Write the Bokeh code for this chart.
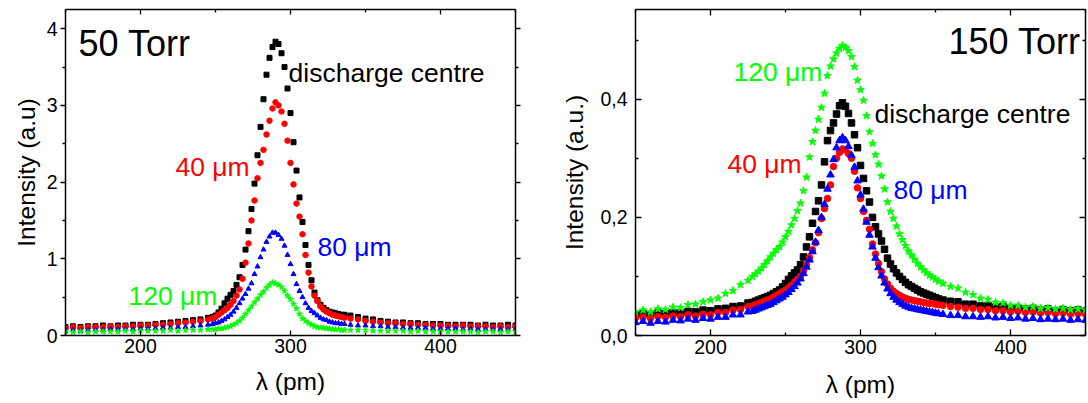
from bokeh.plotting import figure
from bokeh.models import Range1d, LinearAxis, FixedTicker, CustomJSTickFormatter
from bokeh.layouts import row
from bokeh.embed import file_html
from bokeh.resources import INLINE
from bokeh.core.properties import value

FONT = "Liberation Sans"

# ---------------- 50 Torr panel data ----------------
wl_50 = [150, 155, 160, 165, 170, 175, 180, 185, 190, 195, 200, 205, 210, 215, 220, 225, 230, 235, 240, 245,
         248, 250, 252, 254, 256, 258, 260, 262, 264, 266, 268, 270, 272, 274, 276, 278, 280, 282, 284, 286,
         288, 290, 292, 294, 296, 298, 300, 302, 304, 306, 308, 310, 312, 314, 316, 318, 320, 322, 324, 326,
         328, 330, 332, 334, 336,
         340, 345, 350, 355, 360, 365, 370, 375, 380, 385, 390, 395, 400, 405, 410, 415, 420, 425, 430, 435,
         440, 445, 450]

centre_50 = [0.11, 0.12, 0.11, 0.12, 0.12, 0.13, 0.12, 0.13, 0.13, 0.14, 0.14, 0.14, 0.15, 0.16, 0.17, 0.18, 0.19, 0.20, 0.21, 0.23,
             0.24, 0.26, 0.30, 0.35, 0.42, 0.48, 0.53, 0.58, 0.66, 0.76, 0.92, 1.12, 1.36, 1.65, 1.98, 2.35, 2.72, 3.08, 3.40, 3.62,
             3.76, 3.83, 3.80, 3.68, 3.50, 3.22, 2.90, 2.52, 2.15, 1.80, 1.48, 1.18, 0.92, 0.72, 0.56, 0.46, 0.40, 0.36, 0.33, 0.31,
             0.30, 0.29, 0.28, 0.27, 0.27,
             0.26, 0.24, 0.22, 0.21, 0.19, 0.18, 0.17, 0.17, 0.16, 0.16, 0.15, 0.15, 0.15, 0.14, 0.14, 0.14, 0.14, 0.13, 0.14, 0.13,
             0.13, 0.14, 0.13]

um40_50 = [0.10, 0.11, 0.10, 0.11, 0.11, 0.11, 0.12, 0.11, 0.12, 0.12, 0.13, 0.13, 0.14, 0.14, 0.15, 0.16, 0.17, 0.18, 0.19, 0.21,
           0.22, 0.24, 0.27, 0.30, 0.33, 0.36, 0.40, 0.45, 0.52, 0.60, 0.74, 0.95, 1.20, 1.50, 1.76, 2.05, 2.25, 2.42, 2.62, 2.80,
           2.96, 3.04, 3.00, 2.92, 2.76, 2.54, 2.25, 1.97, 1.72, 1.55, 1.32, 1.05, 0.82, 0.64, 0.52, 0.45, 0.38, 0.34, 0.31, 0.29,
           0.27, 0.26, 0.25, 0.24, 0.23,
           0.22, 0.21, 0.19, 0.18, 0.17, 0.16, 0.16, 0.15, 0.15, 0.14, 0.14, 0.13, 0.13, 0.13, 0.12, 0.13, 0.12, 0.12, 0.12, 0.11,
           0.12, 0.11, 0.12]

um80_50 = [0.06, 0.07, 0.06, 0.07, 0.07, 0.07, 0.08, 0.08, 0.08, 0.08, 0.09, 0.09, 0.09, 0.10, 0.10, 0.11, 0.11, 0.12, 0.13, 0.14,
           0.15, 0.16, 0.17, 0.19, 0.21, 0.24, 0.27, 0.31, 0.36, 0.42, 0.48, 0.54, 0.61, 0.68, 0.80, 0.90, 1.02, 1.12, 1.22, 1.29,
           1.34, 1.34, 1.31, 1.26, 1.17, 1.05, 0.93, 0.80, 0.67, 0.58, 0.50, 0.42, 0.36, 0.32, 0.29, 0.26, 0.23, 0.21, 0.20, 0.18,
           0.17, 0.16, 0.16, 0.15, 0.15,
           0.14, 0.13, 0.13, 0.12, 0.12, 0.11, 0.11, 0.10, 0.10, 0.10, 0.10, 0.09, 0.09, 0.09, 0.09, 0.08, 0.09, 0.08, 0.08, 0.08,
           0.08, 0.08, 0.08]

um120_50 = [0.05, 0.04, 0.05, 0.04, 0.05, 0.05, 0.05, 0.05, 0.06, 0.05, 0.06, 0.06, 0.06, 0.06, 0.07, 0.06, 0.07, 0.07, 0.07, 0.08,
            0.08, 0.08, 0.09, 0.09, 0.10, 0.11, 0.12, 0.14, 0.16, 0.19, 0.23, 0.28, 0.33, 0.38, 0.43, 0.48, 0.53, 0.57, 0.62, 0.66,
            0.69, 0.68, 0.66, 0.63, 0.58, 0.52, 0.47, 0.41, 0.35, 0.28, 0.22, 0.19, 0.16, 0.14, 0.12, 0.11, 0.10, 0.10, 0.09, 0.09,
            0.08, 0.08, 0.08, 0.07, 0.07,
            0.07, 0.07, 0.07, 0.06, 0.06, 0.06, 0.06, 0.06, 0.05, 0.06, 0.05, 0.05, 0.05, 0.05, 0.05, 0.05, 0.05, 0.04, 0.05, 0.05,
            0.04, 0.05, 0.05]

# ---------------- 150 Torr panel data ----------------
wl_150 = [150, 155, 160, 165, 170, 175, 180, 185, 190, 195, 200, 205, 210, 215, 220, 225,
          228, 230, 232, 234, 236, 238, 240, 242, 244, 246, 248, 250, 252, 254, 256, 258, 260, 262, 264, 266,
          268, 270, 272, 274, 276, 278, 280, 282, 284, 286, 288, 290, 292, 294, 296, 298, 300, 302, 304, 306,
          308, 310, 312, 314, 316, 318, 320, 322, 324, 326, 328, 330, 332, 334, 336, 338, 340, 342, 344, 346,
          348, 350, 352,
          355, 360, 365, 370, 375, 380, 385, 390, 395, 400, 405, 410, 415, 420, 425, 430, 435, 440, 445, 450]

centre_150 = [0.035, 0.037, 0.035, 0.038, 0.037, 0.039, 0.038, 0.041, 0.040, 0.043, 0.042, 0.045, 0.046, 0.049, 0.050, 0.055,
              0.056, 0.058, 0.060, 0.062, 0.064, 0.066, 0.068, 0.071, 0.074, 0.077, 0.082, 0.088, 0.095, 0.101, 0.106, 0.111, 0.120, 0.133, 0.150, 0.167,
              0.190, 0.210, 0.228, 0.255, 0.294, 0.330, 0.347, 0.360, 0.375, 0.389, 0.394, 0.388, 0.376, 0.360, 0.340, 0.318, 0.288, 0.266, 0.245, 0.226,
              0.200, 0.184, 0.172, 0.160, 0.146, 0.131, 0.121, 0.113, 0.106, 0.100, 0.095, 0.090, 0.086, 0.083, 0.080, 0.077, 0.074, 0.072, 0.070, 0.068,
              0.066, 0.064, 0.062,
              0.060, 0.058, 0.057, 0.053, 0.053, 0.050, 0.051, 0.048, 0.049, 0.046, 0.047, 0.045, 0.046, 0.043, 0.045, 0.042, 0.044, 0.042, 0.043, 0.041]

um40_150 = [0.030, 0.031, 0.029, 0.032, 0.031, 0.033, 0.032, 0.035, 0.033, 0.036, 0.035, 0.039, 0.039, 0.043, 0.044, 0.049,
            0.050, 0.052, 0.054, 0.056, 0.058, 0.060, 0.062, 0.065, 0.068, 0.071, 0.074, 0.077, 0.081, 0.085, 0.090, 0.095, 0.100, 0.110, 0.120, 0.132,
            0.145, 0.157, 0.174, 0.198, 0.215, 0.232, 0.255, 0.286, 0.300, 0.310, 0.316, 0.314, 0.308, 0.300, 0.278, 0.250, 0.232, 0.210, 0.195, 0.180,
            0.155, 0.138, 0.122, 0.108, 0.096, 0.087, 0.080, 0.075, 0.071, 0.068, 0.065, 0.063, 0.061, 0.060, 0.059, 0.058, 0.057, 0.056, 0.055, 0.054,
            0.054, 0.053, 0.052,
            0.051, 0.049, 0.048, 0.046, 0.046, 0.044, 0.044, 0.042, 0.042, 0.040, 0.041, 0.039, 0.040, 0.038, 0.039, 0.037, 0.038, 0.036, 0.037, 0.036]

um80_150 = [0.022, 0.024, 0.021, 0.024, 0.023, 0.026, 0.025, 0.028, 0.026, 0.029, 0.028, 0.031, 0.031, 0.035, 0.035, 0.040,
            0.041, 0.043, 0.045, 0.047, 0.049, 0.051, 0.053, 0.056, 0.059, 0.062, 0.065, 0.069, 0.073, 0.078, 0.083, 0.089, 0.096, 0.105, 0.116, 0.128,
            0.142, 0.158, 0.178, 0.200, 0.222, 0.248, 0.272, 0.298, 0.318, 0.330, 0.335, 0.330, 0.320, 0.305, 0.285, 0.262, 0.238, 0.214, 0.192, 0.170,
            0.150, 0.131, 0.115, 0.101, 0.089, 0.079, 0.071, 0.065, 0.060, 0.056, 0.053, 0.050, 0.048, 0.046, 0.045, 0.044, 0.043, 0.042, 0.041, 0.040,
            0.039, 0.038, 0.037,
            0.036, 0.034, 0.034, 0.032, 0.032, 0.031, 0.032, 0.030, 0.031, 0.029, 0.030, 0.028, 0.029, 0.027, 0.028, 0.027, 0.028, 0.026, 0.027, 0.026]

um120_150 = [0.040, 0.043, 0.040, 0.045, 0.044, 0.048, 0.047, 0.052, 0.053, 0.057, 0.060, 0.063, 0.071, 0.076, 0.086, 0.093,
             0.100, 0.104, 0.109, 0.114, 0.120, 0.126, 0.133, 0.139, 0.145, 0.150, 0.158, 0.167, 0.176, 0.187, 0.198, 0.211, 0.224, 0.245, 0.268, 0.302,
             0.328, 0.347, 0.366, 0.386, 0.410, 0.440, 0.456, 0.468, 0.478, 0.486, 0.491, 0.488, 0.482, 0.472, 0.455, 0.432, 0.416, 0.398, 0.372, 0.345,
             0.325, 0.306, 0.290, 0.270, 0.248, 0.226, 0.210, 0.198, 0.185, 0.172, 0.162, 0.152, 0.143, 0.136, 0.129, 0.122, 0.116, 0.111, 0.106, 0.102,
             0.099, 0.095, 0.092,
             0.088, 0.083, 0.080, 0.073, 0.069, 0.063, 0.061, 0.056, 0.055, 0.051, 0.051, 0.048, 0.049, 0.046, 0.047, 0.045, 0.046, 0.044, 0.045, 0.043]

x_ticks = [200, 300, 400]
x_minor = [150, 250, 350, 450]
y_ticks_50 = [0, 1, 2, 3, 4]
y_minor_50 = [0.5, 1.5, 2.5, 3.5]
y_ticks_150 = [0.0, 0.2, 0.4]
y_minor_150 = [0.1, 0.3, 0.5]

BLACK, RED, BLUE, GREEN = "#000000", "#ff0000", "#0000ff", "#00ff00"


def style_axis(ax, tin, tout, mtin, mtout, standoff, label_standoff, labels=True):
    ax.axis_line_width = 1.5
    ax.axis_line_color = "black"
    ax.major_tick_in = tin
    ax.major_tick_out = tout
    ax.minor_tick_in = mtin
    ax.minor_tick_out = mtout
    ax.major_tick_line_width = 1.3
    ax.minor_tick_line_width = 1.3
    ax.major_label_text_font = FONT
    ax.major_label_text_font_size = "19.5px"
    ax.major_label_text_color = "black"
    ax.major_label_standoff = standoff
    ax.axis_label_text_font = FONT
    ax.axis_label_text_font_size = "24.5px"
    ax.axis_label_text_font_style = "normal"
    ax.axis_label_text_color = "black"
    ax.axis_label_standoff = label_standoff
    if not labels:
        ax.major_label_text_font_size = "0px"
        ax.major_label_text_color = None
        ax.major_label_standoff = 0


# ---------------- left figure ----------------
p1 = figure(width=523, height=400, x_range=Range1d(150, 450), y_range=Range1d(0, 4.25),
            output_backend="svg", toolbar_location=None,
            min_border_left=65, min_border_right=8, min_border_top=7, min_border_bottom=63)
p1.grid.visible = False
p1.outline_line_color = None
p1.background_fill_color = "white"
p1.border_fill_color = "white"

p1.xaxis.ticker = FixedTicker(ticks=x_ticks, minor_ticks=x_minor)
p1.yaxis.ticker = FixedTicker(ticks=y_ticks_50, minor_ticks=y_minor_50)
p1.xaxis.axis_label = "λ (pm)"
p1.yaxis.axis_label = "Intensity (a.u)"
style_axis(p1.xaxis[0], 5, 0, 3, 0, 3, 12)
style_axis(p1.yaxis[0], 0, 5, 0, 3, 3, 4)
r1 = LinearAxis(ticker=FixedTicker(ticks=y_ticks_50, minor_ticks=y_minor_50))
style_axis(r1, 0, 5, 0, 3, 0, 0, labels=False)
p1.add_layout(r1, "right")
t1 = LinearAxis(ticker=FixedTicker(ticks=x_ticks, minor_ticks=x_minor))
style_axis(t1, 5, 0, 3, 0, 0, 0, labels=False)
p1.add_layout(t1, "above")

p1.scatter(wl_50, centre_50, marker="square", size=5, color=BLACK)
p1.scatter(wl_50, um40_50, marker="circle", size=5.5, color=RED)
p1.scatter(wl_50, um80_50, marker="triangle", size=5, color=BLUE)
p1.scatter(wl_50, um120_50, marker="star", size=6, color=GREEN)

p1.text(x=[158.7], y=[3.81], text=["50 Torr"], text_font=value(FONT), text_font_size=value("36px"),
        text_color=BLACK, text_baseline="alphabetic", text_align="left")
p1.text(x=[298.7, 223.3, 318.0, 192.0], y=[3.42, 2.2, 1.16, 0.52],
        text=["discharge centre", "40 μm", "80 μm", "120 μm"],
        text_color=[BLACK, RED, BLUE, GREEN],
        text_font=value(FONT), text_font_size=value("26.5px"),
        text_baseline="alphabetic", text_align="left")

# ---------------- right figure ----------------
p2 = figure(width=565, height=400, x_range=Range1d(150, 450), y_range=Range1d(0, 0.552),
            output_backend="svg", toolbar_location=None,
            min_border_left=112, min_border_right=3, min_border_top=9, min_border_bottom=60)
p2.grid.visible = False
p2.outline_line_color = None
p2.background_fill_color = "white"
p2.border_fill_color = "white"

p2.xaxis.ticker = FixedTicker(ticks=x_ticks, minor_ticks=x_minor)
p2.yaxis.ticker = FixedTicker(ticks=y_ticks_150, minor_ticks=y_minor_150)
p2.yaxis.formatter = CustomJSTickFormatter(code="return tick.toFixed(1).replace('.', ',');")
p2.xaxis.axis_label = "λ (pm)"
p2.yaxis.axis_label = "Intensity (a.u.)"
style_axis(p2.xaxis[0], 6, 0, 3, 0, 4, 14)
style_axis(p2.yaxis[0], 6, 0, 3, 0, 8, 9)
r2 = LinearAxis(ticker=FixedTicker(ticks=y_ticks_150, minor_ticks=y_minor_150))
style_axis(r2, 6, 0, 3, 0, 0, 0, labels=False)
p2.add_layout(r2, "right")
t2 = LinearAxis(ticker=FixedTicker(ticks=x_ticks, minor_ticks=x_minor))
style_axis(t2, 6, 0, 3, 0, 0, 0, labels=False)
p2.add_layout(t2, "above")

p2.scatter(wl_150, centre_150, marker="square", size=6.5, color=BLACK)
p2.scatter(wl_150, um40_150, marker="circle", size=6.5, color=RED)
p2.scatter(wl_150, um80_150, marker="triangle", size=7.5, color=BLUE)
p2.scatter(wl_150, um120_150, marker="star", size=8, color=GREEN)

p2.text(x=[358.7], y=[0.497], text=["150 Torr"], text_font=value(FONT), text_font_size=value("36px"),
        text_color=BLACK, text_baseline="alphabetic", text_align="left")
p2.text(x=[215.3, 309.3, 211.3, 322.0], y=[0.446, 0.375, 0.29, 0.247],
        text=["120 μm", "discharge centre", "40 μm", "80 μm"],
        text_color=[GREEN, BLACK, RED, BLUE],
        text_font=value(FONT), text_font_size=value("26.5px"),
        text_baseline="alphabetic", text_align="left")

layout = row(p1, p2)
open("out.html", "w").write(file_html(layout, INLINE))
